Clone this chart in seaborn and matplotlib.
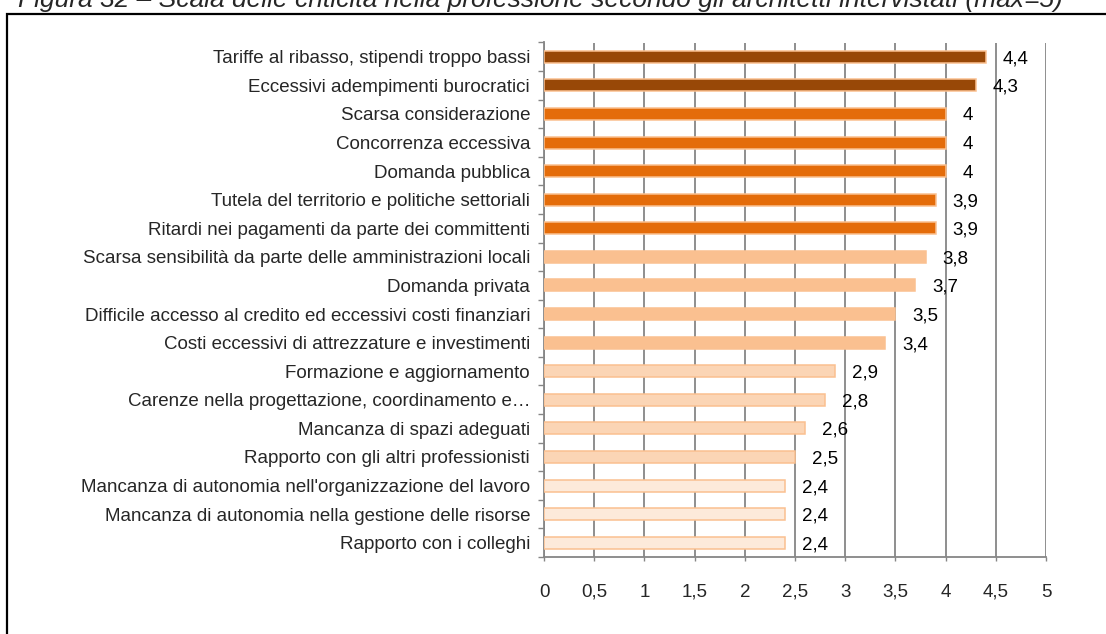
import matplotlib
matplotlib.use("Agg")
import matplotlib.pyplot as plt
from matplotlib.patches import Rectangle
import seaborn as sns
import pandas as pd

categorie = [
    "Tariffe al ribasso, stipendi troppo bassi",
    "Eccessivi adempimenti burocratici",
    "Scarsa considerazione",
    "Concorrenza eccessiva",
    "Domanda pubblica",
    "Tutela del territorio e politiche settoriali",
    "Ritardi nei pagamenti da parte dei committenti",
    "Scarsa sensibilità da parte delle amministrazioni locali",
    "Domanda privata",
    "Difficile accesso al credito ed eccessivi costi finanziari",
    "Costi eccessivi di attrezzature e investimenti",
    "Formazione e aggiornamento",
    "Carenze nella progettazione, coordinamento e…",
    "Mancanza di spazi adeguati",
    "Rapporto con gli altri professionisti",
    "Mancanza di autonomia nell'organizzazione del lavoro",
    "Mancanza di autonomia nella gestione delle risorse",
    "Rapporto con i colleghi",
]
punteggi = [4.4, 4.3, 4.0, 4.0, 4.0, 3.9, 3.9, 3.8, 3.7, 3.5, 3.4, 2.9, 2.8, 2.6, 2.5, 2.4, 2.4, 2.4]
tick_valori = [0, 0.5, 1, 1.5, 2, 2.5, 3, 3.5, 4, 4.5, 5]
titolo = "Figura 32 – Scala delle criticità nella professione secondo gli architetti intervistati (max=5)"


def fascia(v):
    if v >= 4.25:
        return "a"
    if v >= 3.85:
        return "b"
    if v >= 3.35:
        return "c"
    if v >= 2.45:
        return "d"
    return "e"


def virgola(v):
    return ("%g" % v).replace(".", ",")


df = pd.DataFrame({"categoria": categorie, "punteggio": punteggi})
df["fascia"] = df["punteggio"].apply(fascia)
colori = {"a": "#984807", "b": "#E46C0A", "c": "#FAC090", "d": "#FBD5B5", "e": "#FDEADA"}

sns.set_theme(style="white")
plt.rcParams["font.family"] = ["Liberation Sans", "DejaVu Sans"]

FS = 13.5
fig = plt.figure(figsize=(11.06, 6.34), dpi=100)
W, H = 1106, 634
ax = fig.add_axes([544 / W, 1 - 557 / H, (1046 - 544) / W, (557 - 42.5) / H])

sns.barplot(data=df, x="punteggio", y="categoria", hue="fascia", palette=colori,
            saturation=1, dodge=False, legend=False, width=0.42,
            edgecolor="#FAC090", linewidth=1.1, ax=ax, zorder=3)

ax.set_xlim(0, 5)
ax.set_ylim(len(categorie) - 0.5, -0.5)
ax.set_xticks(tick_valori)
ax.set_xticklabels([virgola(t) for t in tick_valori], fontsize=FS)
for lbl in ax.get_xticklabels():
    lbl.set_verticalalignment("baseline")
ax.set_xlabel("")
ax.set_ylabel("")
ax.set_yticks(range(len(categorie)))
ax.set_yticklabels(categorie, fontsize=FS)
ax.tick_params(axis="y", length=0, pad=10)
ax.tick_params(axis="x", length=3, width=1, color="#868686", pad=25.5, direction="out")
ax.xaxis.set_ticks_position("bottom")

# minor ticks on the category axis sit between the bars
ax.set_yticks([i - 0.5 for i in range(len(categorie) + 1)], minor=True)
ax.tick_params(axis="y", which="minor", length=4, width=1, color="#868686", left=True)

ax.grid(axis="x", color="#868686", linewidth=1.3, zorder=0)
ax.grid(axis="y", visible=False)
ax.set_axisbelow(True)
for s in ["top", "right"]:
    ax.spines[s].set_visible(False)
for s in ["left", "bottom"]:
    ax.spines[s].set_color("#868686")
    ax.spines[s].set_linewidth(1.3)

for i, v in enumerate(punteggi):
    ax.text(v + 0.17, i, virgola(v), va="center_baseline", ha="left",
            fontsize=FS, color="black", zorder=4)

fig.text(18 / W, 1 - 7 / H, titolo, fontsize=19, style="italic", ha="left", va="baseline")

fig.patches.append(Rectangle((7 / W, -0.1), 1.2, 1.1 - 14 / H, transform=fig.transFigure,
                             fill=False, edgecolor="black", linewidth=1.6))

fig.savefig("out.png", dpi=100, facecolor="white")
